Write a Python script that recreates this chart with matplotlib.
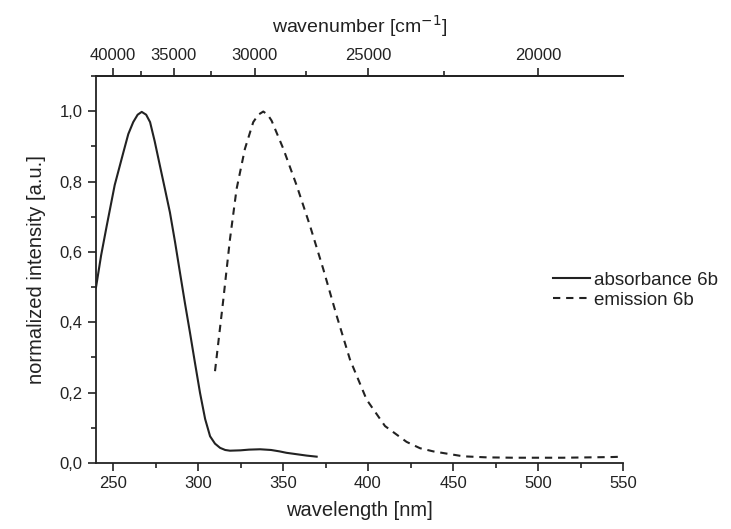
import matplotlib
matplotlib.use("Agg")
import matplotlib.pyplot as plt
from matplotlib.ticker import FuncFormatter, MultipleLocator, FixedLocator
import numpy as np

plt.rcParams['font.family'] = ['Liberation Sans', 'DejaVu Sans']

abs_nm = [240, 243, 246.3, 251, 256.1, 259, 261.9, 264.5, 266.9, 269.5, 271.8, 274.5, 277.6, 280.5,
          283.5, 286.5, 289.4, 292.3, 295.3, 298.2, 301.2, 304.2, 307.1, 310, 313, 316, 318.8,
          325, 330, 336.5, 343, 348, 352, 358, 364, 369.8]
abs_val = [0.499, 0.59, 0.674, 0.79, 0.883, 0.935, 0.969, 0.99, 0.998, 0.99, 0.969, 0.915, 0.845, 0.78,
           0.712, 0.628, 0.541, 0.455, 0.370, 0.285, 0.199, 0.125, 0.076, 0.055, 0.043, 0.037, 0.035,
           0.036, 0.038, 0.039, 0.037, 0.033, 0.029, 0.025, 0.021, 0.018]

em_nm = [310, 314.9, 318.8, 322.7, 327.6, 332.5, 335.5, 338.4, 341, 343.3, 350.2, 358.1, 365.9,
         373.7, 381.6, 389.4, 399.2, 410, 422.7, 430.6, 438.4, 456, 470, 485.5, 500, 515, 530, 544, 550]
em_val = [0.261, 0.465, 0.636, 0.779, 0.893, 0.969, 0.99, 0.999, 0.99, 0.973, 0.893, 0.788, 0.674,
          0.551, 0.418, 0.294, 0.180, 0.105, 0.060, 0.042, 0.033, 0.019, 0.016, 0.015, 0.015, 0.015,
          0.016, 0.017, 0.018]

x_ticks = [250, 300, 350, 400, 450, 500, 550]
y_ticks = [0.0, 0.2, 0.4, 0.6, 0.8, 1.0]
wn_ticks = [40000, 35000, 30000, 25000, 20000]
wn_minor = [37500, 32500, 27500, 22500]

col = '#222222'
fig = plt.figure(figsize=(7.31, 5.29), dpi=100)
ax = fig.add_axes([96/731, 1-463/529, (623-96)/731, (463-76)/529])

ax.plot(abs_nm, abs_val, color=col, lw=1.5, label='absorbance 6b')
ax.plot(em_nm, em_val, color=col, lw=1.5, linestyle=(0, (3.5, 2.8)), label='emission 6b')

ax.set_xlim(240, 550)
ax.set_ylim(0, 1.1)
ax.set_xticks(x_ticks)
ax.xaxis.set_minor_locator(MultipleLocator(25))
ax.set_yticks(y_ticks)
ax.yaxis.set_minor_locator(MultipleLocator(0.1))
ax.yaxis.set_major_formatter(FuncFormatter(lambda v, p: f"{v:.1f}".replace('.', ',')))

ax.spines['right'].set_visible(False)
for s in ['left', 'bottom', 'top']:
    ax.spines[s].set_linewidth(1.3)
    ax.spines[s].set_color(col)

ax.tick_params(which='major', direction='out', length=6, width=1.2, colors=col, labelsize=12, labelcolor=col)
ax.tick_params(which='minor', direction='out', length=3.5, width=1.2, colors=col)
ax.tick_params(axis='x', top=False)

ax.set_xlabel('wavelength [nm]', fontsize=14.5, color=col, labelpad=7)
ax.set_ylabel('normalized intensity [a.u.]', fontsize=14.5, color=col, labelpad=10)

sec = ax.secondary_xaxis('top', functions=(lambda x: 1e7/np.asarray(x, dtype=float),
                                           lambda w: 1e7/np.asarray(w, dtype=float)))
sec.xaxis.set_major_locator(FixedLocator(wn_ticks))
sec.xaxis.set_minor_locator(FixedLocator(wn_minor))
sec.spines['top'].set_linewidth(1.3)
sec.spines['top'].set_color(col)
sec.tick_params(which='major', direction='out', length=6, width=1.2, colors=col, labelsize=12, labelcolor=col)
sec.tick_params(which='minor', direction='out', length=3.5, width=1.2, colors=col)
sec.set_xlabel('wavenumber [cm$^{-1}$]', fontsize=14, color=col, labelpad=11)

fig.legend(loc='center left', bbox_to_anchor=(536/731, 1-290/529), frameon=False,
           fontsize=13.5, handlelength=2.0, handletextpad=0.2, labelspacing=0.15,
           labelcolor=col)

fig.savefig('out.png', dpi=100)
